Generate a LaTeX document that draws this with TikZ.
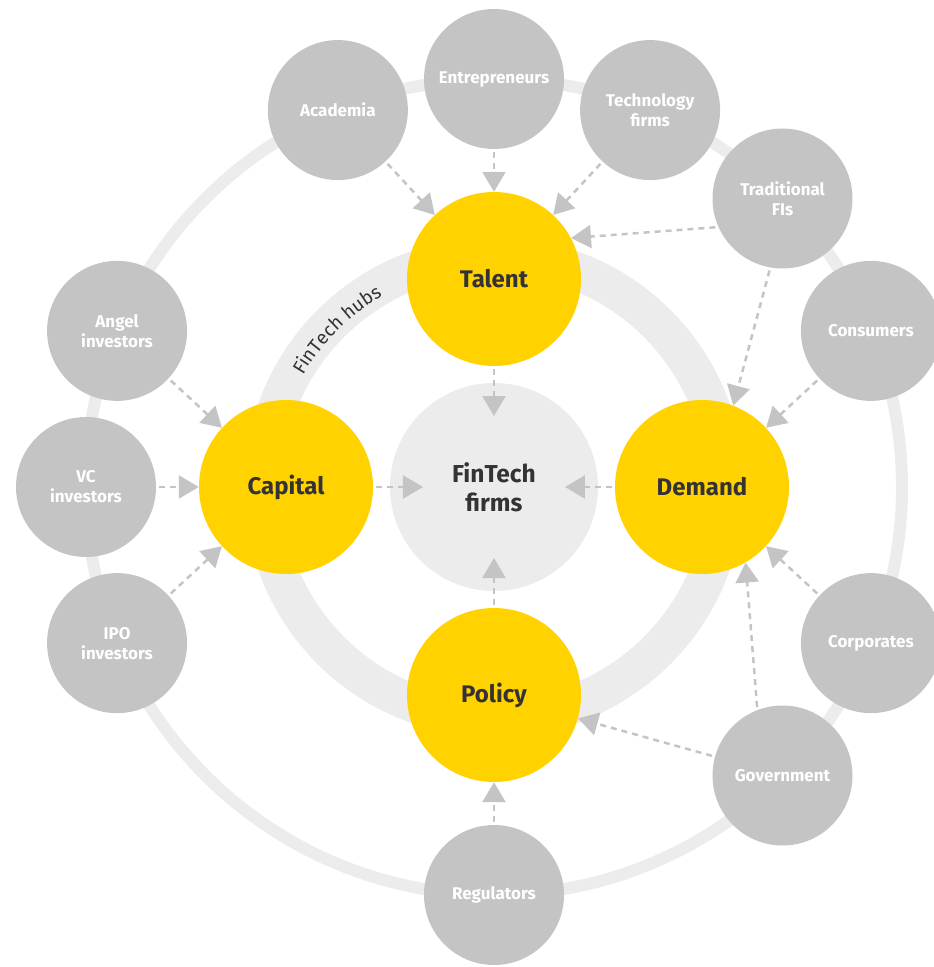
\documentclass[tikz,border=0pt]{standalone}
\usepackage{fontspec}
\setmainfont{Fira Sans}
\usetikzlibrary{arrows.meta,decorations.text}
\definecolor{ygold}{HTML}{FFD200}
\definecolor{ngray}{HTML}{C4C4C4}
\definecolor{rgray}{HTML}{ECECEC}
\definecolor{tdark}{HTML}{333333}
\begin{document}
\begin{tikzpicture}[x=1pt,y=1pt,
  outer/.style={circle,fill=ngray,minimum size=140pt,inner sep=0pt,text=white,
    font=\fontsize{17}{20}\selectfont\bfseries,align=center},
  driver/.style={circle,fill=ygold,minimum size=174pt,inner sep=0pt,text=tdark,
    font=\fontsize{24}{28}\selectfont\bfseries,align=center},
  core/.style={circle,fill=rgray,minimum size=208pt,inner sep=0pt,text=tdark,
    font=\fontsize{24.5}{29}\selectfont\bfseries,align=center},
  arr/.style={draw=ngray,line width=2.5pt,dash pattern=on 6pt off 5pt,
    -{Triangle[length=20pt,width=23pt]},shorten <=3pt}]
\useasboundingbox (-494,-480) rectangle (440,487);
% rings
\draw[rgray,line width=12pt] (0,0) circle[radius=408pt];
\draw[rgray,line width=38pt] (0,0) circle[radius=231pt];
\path[decorate,decoration={text along path,text align=center,text color=tdark,
  text={|\fontsize{19}{19}\selectfont|FinTech hubs}}]
  (170:221pt) arc[start angle=170,end angle=100,radius=221pt];
% core and drivers
\node[core] (firms) at (0,0) {FinTech\\firms};
\node[driver] (talent) at (90:208pt) {Talent};
\node[driver] (capital) at (180:208pt) {Capital};
\node[driver] (demand) at (0:208pt) {Demand};
\node[driver] (policy) at (270:208pt) {Policy};
% outer stakeholders
\node[outer] (academia) at (112.5:408pt) {Academia};
\node[outer] (entre) at (90:408pt) {Entrepreneurs};
\node[outer] (tech) at (67.5:408pt) {Technology\\firms};
\node[outer] (tfi) at (45:408pt) {Traditional\\FIs};
\node[outer] (consumers) at (22.5:408pt) {Consumers};
\node[outer] (corporates) at (-22.5:408pt) {Corporates};
\node[outer] (gov) at (-45:408pt) {Government};
\node[outer] (reg) at (-90:408pt) {Regulators};
\node[outer] (ipo) at (-157.5:408pt) {IPO\\investors};
\node[outer] (vc) at (180:408pt) {VC\\investors};
\node[outer] (angel) at (157.5:408pt) {Angel\\investors};
% arrows
\draw[arr] (academia) -- (talent);
\draw[arr] (entre) -- (talent);
\draw[arr] (tech) -- (talent);
\draw[arr] (tfi.204) -- (talent.28);
\draw[arr] (tfi.260) -- (demand.69);
\draw[arr] (consumers) -- (demand);
\draw[arr] (corporates) -- (demand);
\draw[arr] (gov.111) -- (demand.300);
\draw[arr] (gov) -- (policy);
\draw[arr] (reg) -- (policy);
\draw[arr] (angel) -- (capital);
\draw[arr] (vc) -- (capital);
\draw[arr] (ipo) -- (capital);
\draw[arr,shorten >=71pt] (talent) -- (firms.center);
\draw[arr,shorten >=71pt] (capital) -- (firms.center);
\draw[arr,shorten >=71pt] (demand) -- (firms.center);
\draw[arr,shorten >=71pt] (policy) -- (firms.center);
\end{tikzpicture}
\end{document}
